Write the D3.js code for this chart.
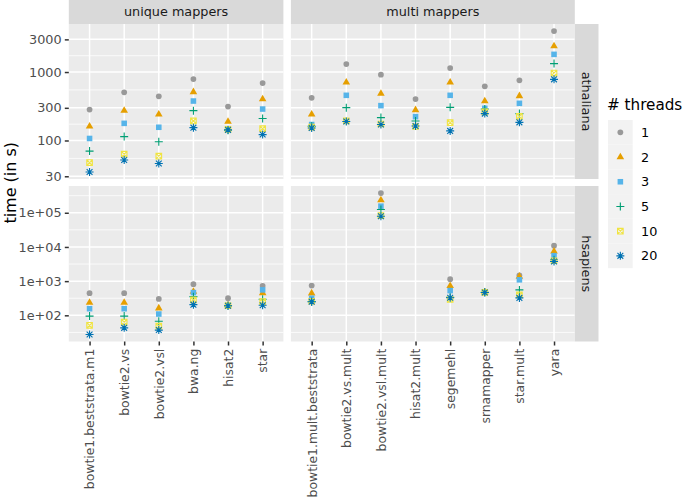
<!DOCTYPE html>
<html><head><meta charset="utf-8">
<script src="https://cdn.jsdelivr.net/npm/d3@7"></script>
<style>body{margin:0;background:#fff} text{font-family:"DejaVu Sans",sans-serif}</style>
</head><body><svg id="c" width="685" height="500"></svg>
<script>
const threads = ["1","2","3","5","10","20"];
const threadColors = ["#999999","#E69F00","#56B4E9","#009E73","#F0E442","#0072B2"];
const mapperGroups = ["unique mappers","multi mappers"];
const species = ["athaliana","hsapiens"];
const uniqueMappers = ["bowtie1.beststrata.m1","bowtie2.vs","bowtie2.vsl","bwa.ng","hisat2","star"];
const multiMappers = ["bowtie1.mult.beststrata","bowtie2.vs.mult","bowtie2.vsl.mult","hisat2.mult","segemehl","srnamapper","star.mult","yara"];
// time in s; one row per mapper, columns = threads 1,2,3,5,10,20
const athalianaUnique = [
 [283,161,107,70,47.5,34.7],
 [506,273,178,114,63,52],
 [442,241,156,96,59,46],
 [790,511,377,273,193,154],
 [313,189,147,141,145,143],
 [691,403,288,209,149,122]
];
const athalianaMulti = [
 [421,241,171,161,157,152],
 [1309,707,457,302,193,189],
 [916,484,323,216,174,171],
 [403,279,223,193,160,163],
 [1143,707,457,305,182,138],
 [618,377,295,288,261,247],
 [757,447,349,247,225,184],
 [3970,2399,1812,1327,967,782]
];
const hsapiensUnique = [
 [444,235,156,95,51,27.6],
 [444,235,156,95,63.5,43],
 [301,161,109,67,48,37],
 [817,494,462,352,282,205],
 [316,200,195,190,192,190],
 [727,450,555,295,251,197]
];
const hsapiensMulti = [
 [743,444,316,251,258,250],
 [null,null,null,null,null,null],
 [377000,235000,156000,125000,83000,79000],
 [null,null,null,null,null,null],
 [1145,727,529,335,290,325],
 [480,478,475,470,468,465],
 [1462,1370,1092,555,395,323],
 [10900,7430,5550,4230,3950,3770]
];
const athalianaTicks = [30,100,300,1000,3000];
const athalianaTickLabels = ["30","100","300","1000","3000"];
const hsapiensTicks = [1e2,1e3,1e4,1e5];
const hsapiensTickLabels = ["1e+02","1e+03","1e+04","1e+05"];

const svg = d3.select("#c");
const cols = [
  {name: mapperGroups[0], cats: uniqueMappers, x0: 68.8, x1: 283.4},
  {name: mapperGroups[1], cats: multiMappers, x0: 290.9, x1: 574.8}
];
const rows = [
  {name: species[0], y0: 24, y1: 179, data: [athalianaUnique, athalianaMulti], ticks: athalianaTicks, labels: athalianaTickLabels},
  {name: species[1], y0: 186, y1: 341.5, data: [hsapiensUnique, hsapiensMulti], ticks: hsapiensTicks, labels: hsapiensTickLabels}
];
const stripR = [574.8, 598.5];
const MAJ = 1.5, MIN = 0.75;

function logDomain(arrs){
  const v = arrs.flat(2).filter(d => d != null);
  const lo = Math.log10(d3.min(v)), hi = Math.log10(d3.max(v));
  const p = (hi - lo) * 0.05;
  return [Math.pow(10, lo - p), Math.pow(10, hi + p)];
}
function minorBreaks(ticks, dom){
  const b = ticks.map(Math.log10);
  const lo = Math.log10(dom[0]), hi = Math.log10(dom[1]);
  if (lo < b[0]) b.unshift(b[0] - (b[1] - b[0]));
  if (hi > b[b.length-1]) b.push(b[b.length-1] + (b[b.length-1] - b[b.length-2]));
  const m = [];
  for (let i = 0; i < b.length - 1; i++) m.push((b[i] + b[i+1]) / 2);
  return m.filter(x => x > lo && x < hi).map(x => Math.pow(10, x));
}
function shape(g, i, cx, cy){
  const col = threadColors[i];
  const t = `translate(${cx},${cy})`;
  if (i === 0) g.append("path").attr("d", d3.symbol(d3.symbolCircle, 26)()).attr("transform", t).attr("fill", col);
  else if (i === 1) g.append("path").attr("d", d3.symbol(d3.symbolTriangle, 25)()).attr("transform", t).attr("fill", col);
  else if (i === 2) g.append("path").attr("d", d3.symbol(d3.symbolSquare, 31)()).attr("transform", t).attr("fill", col);
  else if (i === 3) g.append("path").attr("d", "M-4,0H4M0,-4V4").attr("transform", t).attr("stroke", col).attr("stroke-width", 1.1).attr("fill", "none");
  else if (i === 4) g.append("path").attr("d", "M-2.8,-2.8H2.8V2.8H-2.8ZM-2.8,-2.8L2.8,2.8M-2.8,2.8L2.8,-2.8").attr("transform", t).attr("stroke", col).attr("stroke-width", 1.1).attr("fill", "none");
  else g.append("path").attr("d", "M-4,0H4M0,-4V4M-2.9,-2.9L2.9,2.9M-2.9,2.9L2.9,-2.9").attr("transform", t).attr("stroke", col).attr("stroke-width", 1.1).attr("fill", "none");
}

rows.forEach((row, ri) => {
  const y = d3.scaleLog().domain(logDomain(row.data)).range([row.y1, row.y0]);
  const minors = minorBreaks(row.ticks, y.domain());
  cols.forEach((col, ci) => {
    const x = d3.scalePoint().domain(col.cats).range([col.x0, col.x1]).padding(0.6);
    const g = svg.append("g");
    g.append("rect").attr("x", col.x0).attr("y", row.y0).attr("width", col.x1 - col.x0).attr("height", row.y1 - row.y0).attr("fill", "#EBEBEB");
    g.selectAll(".mn").data(minors).enter().append("line")
      .attr("x1", col.x0).attr("x2", col.x1).attr("y1", d => y(d)).attr("y2", d => y(d))
      .attr("stroke", "#fff").attr("stroke-width", MIN);
    g.selectAll(".mj").data(row.ticks).enter().append("line")
      .attr("x1", col.x0).attr("x2", col.x1).attr("y1", d => y(d)).attr("y2", d => y(d))
      .attr("stroke", "#fff").attr("stroke-width", MAJ);
    g.selectAll(".vx").data(col.cats).enter().append("line")
      .attr("x1", d => x(d)).attr("x2", d => x(d)).attr("y1", row.y0).attr("y2", row.y1)
      .attr("stroke", "#fff").attr("stroke-width", MAJ);
    const data = row.data[ci];
    threads.forEach((th, ti) => {
      col.cats.forEach((c, k) => {
        const v = data[k][ti];
        if (v != null) shape(g, ti, x(c), y(v));
      });
    });
    if (ci === 0) {
      const ax = svg.append("g").attr("transform", `translate(${col.x0},0)`)
        .call(d3.axisLeft(y).tickValues(row.ticks).tickFormat((d, i) => row.labels[i]).tickSize(4).tickPadding(3.2));
      ax.select(".domain").remove();
      ax.selectAll("line").attr("stroke", "#333333").attr("stroke-width", MAJ);
      ax.selectAll("text").attr("fill", "#4D4D4D").style("font-size", "12.8px").style("font-family", "DejaVu Sans");
    }
    if (ri === rows.length - 1) {
      const ax = svg.append("g").attr("transform", `translate(0,${row.y1})`)
        .call(d3.axisBottom(x).tickSize(4).tickPadding(3.2));
      ax.select(".domain").remove();
      ax.selectAll("line").attr("stroke", "#333333").attr("stroke-width", MAJ);
      ax.selectAll("text").attr("fill", "#4D4D4D").style("font-size", "12.4px").style("font-family", "DejaVu Sans")
        .attr("transform", "rotate(-90)").attr("y", 0).attr("x", -7.2).attr("dy", "0.35em").style("text-anchor", "end");
    }
    if (ri === 0) {
      svg.append("rect").attr("x", col.x0).attr("y", 0).attr("width", col.x1 - col.x0).attr("height", row.y0).attr("fill", "#D9D9D9");
      svg.append("text").attr("x", (col.x0 + col.x1) / 2).attr("y", row.y0 / 2).attr("dy", "0.35em")
        .attr("text-anchor", "middle").attr("fill", "#1A1A1A").style("font-size", "12.8px").text(col.name);
    }
  });
  svg.append("rect").attr("x", stripR[0]).attr("y", row.y0).attr("width", stripR[1] - stripR[0]).attr("height", row.y1 - row.y0).attr("fill", "#D9D9D9");
  const cx = (stripR[0] + stripR[1]) / 2, cy = (row.y0 + row.y1) / 2;
  svg.append("text").attr("transform", `translate(${cx},${cy}) rotate(90)`).attr("dy", "0.35em")
    .attr("text-anchor", "middle").attr("fill", "#1A1A1A").style("font-size", "12.8px").text(row.name);
});

// y axis title
svg.append("text").attr("transform", `translate(15.5,${(rows[0].y0 + rows[1].y1) / 2}) rotate(-90)`)
  .attr("text-anchor", "middle").attr("fill", "#000").style("font-size", "16px").text("time (in s)");

// legend
const lg = svg.append("g");
lg.append("text").attr("x", 607).attr("y", 109.5).attr("fill", "#000").style("font-size", "15.2px").text("# threads");
const key = 24.7;
threads.forEach((th, i) => {
  const ky = 120 + i * key;
  lg.append("rect").attr("x", 608).attr("y", ky).attr("width", key).attr("height", key).attr("fill", "#F2F2F2");
  shape(lg, i, 608 + key / 2, ky + key / 2);
  lg.append("text").attr("x", 641).attr("y", ky + key / 2).attr("dy", "0.35em").attr("fill", "#000").style("font-size", "12.8px").text(th);
});
</script></body></html>
